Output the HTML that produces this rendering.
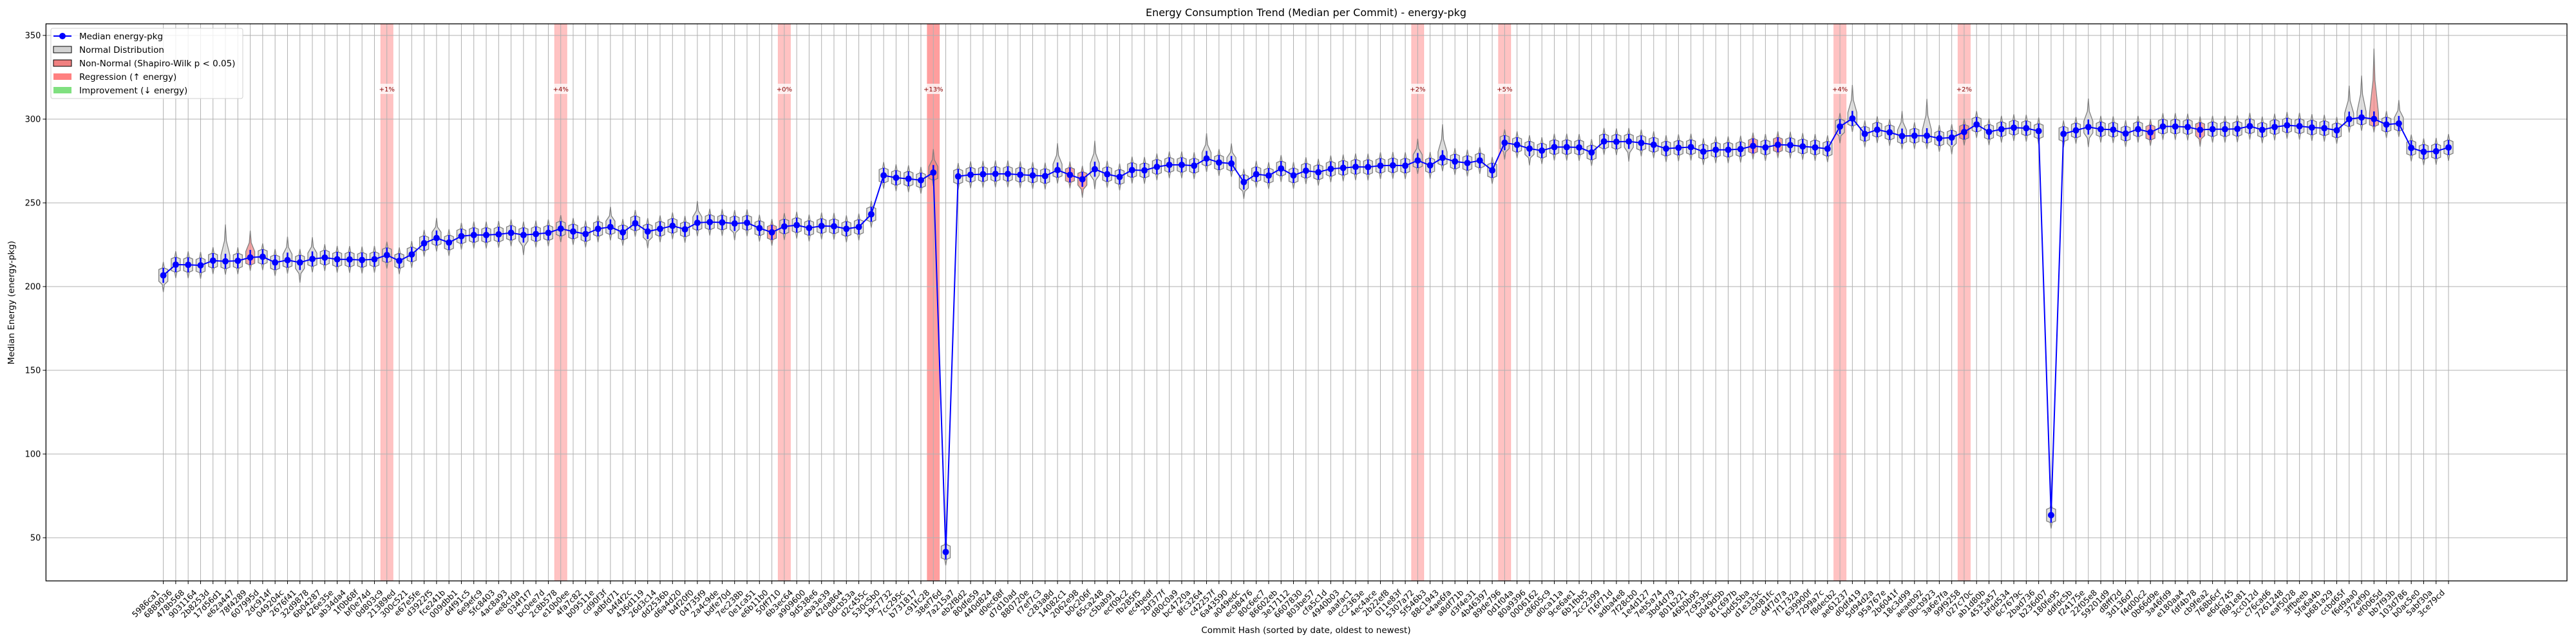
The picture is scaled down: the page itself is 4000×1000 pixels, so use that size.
<!DOCTYPE html>
<html><head><meta charset="utf-8">
<style>
html,body{margin:0;padding:0;background:#fff;}
svg{display:block;font-family:"DejaVu Sans","Liberation Sans",sans-serif;}
</style></head>
<body>
<svg id="chart" width="4000" height="1000" viewBox="0 0 4000 1000" xmlns="http://www.w3.org/2000/svg">
<rect x="0" y="0" width="4000" height="1000" fill="#fff"/>
<text x="2028" y="25" text-anchor="middle" font-size="16" fill="#000">Energy Consumption Trend (Median per Commit) - energy-pkg</text>
<text transform="translate(22,470) rotate(-90)" text-anchor="middle" font-size="13.5" fill="#000">Median Energy (energy-pkg)</text>
<text x="2028" y="983" text-anchor="middle" font-size="13.5" fill="#000">Commit Hash (sorted by date, oldest to newest)</text>
<g id="plot"></g>
</svg>
<script>
const commits = ["5986ca1","6889036","478b568","9031164","2b8253d","17d56d1","e62a447","78f4289","607995d","2dc914f","049204c","2676f41","32d9878","6b04287","426e35e","ab34da4","1f0b68f","bf0e74d","0d803c9","21389ed","300c521","e67e5fe","d3922f5","fce241b","009dbb1","d4f91c5","6e9efc9","5fc8403","4ac8a93","ee8cfda","034f1f7","bc0ee7d","2c8b578","e10b0ee","4fa7c82","b09511e","cd90f3f","adbfd71","b4f4f2c","436d119","26d3c14","dd2536b","d6a4d20","b4f20f0","04735f9","2a4c9de","bdfe70d","7ec238b","0e1ca51","e6b11b0","50ff710","6b3ec64","a909600","9d538e6","eba3e39","42da864","0dcb53a","d2c455c","530c5b0","19c7732","7cc295c","b731817","c91fc28","38ef76d","7a215a7","eb2f8d2","80dfe59","440d824","d0ec68f","d7d10ad","880720e","f7ef7c3","c283a8d","14082c1","2062e98","b0c206f","65ca248","c5bab91","ecf09c2","fb285f5","ec4bedf","2bf377f","d80c0a9","bc4720a","8fc3264","c42257f","6a43590","a049edc","ec98476","80c6ec7","86602eb","3e17112","6607830","803be57","cfa5c1d","4940b03","aaafac1","cc2363e","4ec4ace","2b22ef8","011e83f","5307a72","5f546b3","88c1943","e4ae6fa","a8df71b","d3f4e31","4b46397","89de796","0d1f04a","80a9396","0006162","c8605c9","d0ca11a","9ce6ae1","6b1fbb5","2cc2399","f16f71d","adba4e8","7f28cb0","1e4d127","7eb5a74","3bd4d79","801b221","46b0b95","7c9539c","b049d5b","81c697b","bdd55ba","d1e333c","c9081fc","d4f7d7a","7f1732a","639900f","7299a7c","f8decb2","ae61237","d0df419","5d94d2a","95a767e","2b6041f","18c3d99","aeaeb92","0bcb923","3a6e7fa","99f9258","027c70c","ab1d80b","4535a57","bfdd534","6c7679c","2bad736","b236d07","180fe95","ddfdc5b","f24175e","22f05e8","59201d9","d8fff2d","3d136d7","f4d00c2","0b66d9e","3a46fd9","e180aa4","fdf4b78","cb9fea2","768b6cf","e6dc745","f881e81","3cc012d","c76cad6","7261248","eaf5028","3ffbeeb","5fa6a4b","b681a29","ccbd65f","f6d9aa0","372ef90","ef0065d","bb7f93b","103d786","b0ac5e0","5abf30a","3ce79cd"];
const medians = [206.7,213.1,213.0,212.7,215.5,215.1,215.4,217.4,217.8,214.4,215.8,214.4,216.5,217.3,216.3,216.2,215.9,216.3,218.8,215.4,219.2,225.9,229.0,226.3,
230.1,230.8,230.8,231.2,232.1,230.8,231.4,232.1,234.6,232.9,231.4,234.5,235.6,232.4,237.8,232.9,234.5,236.3,234.2,238.1,238.5,238.3,237.7,238.1,234.9,232.4,235.9,236.7,235.0,236.2,236.0,234.5,235.6,243.2,
266.4,265.0,264.4,263.5,268.1,41.5,265.8,266.8,267.1,267.3,267.3,266.8,266.4,266.0,269.6,266.7,264.1,270.1,267.1,265.5,269.6,269.4,271.5,272.7,272.7,272.2,276.5,274.1,273.5,262.4,267.1,266.3,270.5,266.4,269.2,268.3,270.3,270.9,271.5,
271.4,272.2,272.4,272.2,275.3,272.4,276.9,274.7,273.8,275.3,269.4,285.9,284.7,282.4,281.2,283.3,283.3,283.1,280.1,286.7,286.5,286.7,285.8,284.7,282.4,282.9,283.3,280.6,281.7,281.7,282.1,284.0,283.1,284.7,284.5,283.7,283.1,282.3,295.6,300.4,
291.2,293.7,292.1,289.9,290.1,290.1,288.5,289.0,292.3,296.8,292.4,294.0,294.9,294.6,292.9,63.5,291.2,293.3,295.3,294.0,293.7,291.4,294.0,292.1,295.6,295.6,295.3,293.6,294.0,294.0,294.2,295.8,
293.6,295.3,296.3,295.8,295.0,294.6,293.3,300.0,301.0,300.1,296.8,297.4,282.8,280.5,280.8,283.1];
// violin tails (value units above/below median); default applies except listed
const defaultTailUp = 8;
const defaultTailDown = 8;
const tailUpIdx = [5,7,10,12,22,36,43,57,62,72,75,84,86,101,103,136,140,142,155,176,177,178,180];
const tailUpVal = [22,16,14,13,12,12,13,8,14,16,17,15,12,13,20,20,15,22,17,20,25,42,14];
const tailDownIdx = [0,11,29,39,46,58,74,75,87,108,110,118,135,136,144,155,164];
const tailDownVal = [10,12,12,10,10,8,11,12,10,10,10,12,10,8,10,12,10];
const nonNormal = [7,49,62,73,74,128,130,145,160,164,178];
const bandIdx = [18,32,50,62,101,108,135,145];
const bandLabels = ["+1%","+4%","+0%","+13%","+2%","+5%","+4%","+2%"];
const yTicks = [50,100,150,200,250,300,350];

const L=71.4, R=3986, T=37, B=902;
const X0=253.6, DX=19.285;
function xs(i){return X0+i*DX;}
function ys(v){return 835-(v-50)*2.6;}
const NS="http://www.w3.org/2000/svg";
const plot=document.getElementById('plot');
function el(tag,attrs,parent){const e=document.createElementNS(NS,tag);for(const k in attrs)e.setAttribute(k,attrs[k]);(parent||plot).appendChild(e);return e;}

// bands
const gB=el('g',{});


bandIdx.forEach((b,k)=>{
  const r=el('rect',{x:xs(b)-DX/2,y:T,width:DX,height:B-T,fill:'#ff0000','fill-opacity':b===62?0.38:0.24,stroke:'#ff0000','stroke-opacity':0.12},gB);
  
  
});
// grid
const gG=el('g',{stroke:'#b0b0b0','stroke-width':1});


yTicks.forEach(v=>{el('line',{x1:L,x2:R,y1:ys(v),y2:ys(v)},gG);});
commits.forEach((c,i)=>{el('line',{x1:xs(i),x2:xs(i),y1:T,y2:B},gG);});
// band labels
bandIdx.forEach((b,k)=>{
  const g=el('g',{});
  
  
  el('rect',{x:xs(b)-12,y:130,width:24,height:16,fill:'#fff','fill-opacity':0.75},g);
  const t=el('text',{x:xs(b),y:142,'text-anchor':'middle','font-size':10,fill:'#8b0000'},g);
  t.textContent=bandLabels[k];
});
// violins
const gV=el('g',{});


medians.forEach((m,i)=>{
  let up=defaultTailUp, dn=defaultTailDown;
  const a=tailUpIdx.indexOf(i); if(a>=0) up=tailUpVal[a];
  const b=tailDownIdx.indexOf(i); if(b>=0) dn=tailDownVal[b];
  const x=xs(i), yt=ys(m+up), yb=ys(m-dn), ym=ys(m);
  const w=7;
  const d=`M${x},${yt} L${x+1.5},${ys(m+up*0.55)} L${x+w},${ys(m+3.5)} L${x+w},${ys(m-3.5)} L${x+1.5},${ys(m-dn*0.55)} L${x},${yb} L${x-1.5},${ys(m-dn*0.55)} L${x-w},${ys(m-3.5)} L${x-w},${ys(m+3.5)} L${x-1.5},${ys(m+up*0.55)} Z`;
  const p=el('path',{d:d,fill:nonNormal.includes(i)?'#f08080':'#d3d3d3','fill-opacity':0.7,stroke:'#808080','stroke-width':1.3},gV);
  
  
  const q=el('line',{x1:x,x2:x,y1:ys(m+4.5),y2:ys(m-4.5),stroke:'#0000ff','stroke-width':2.5},gV);
  
  
});
// median line
const pts=medians.map((m,i)=>xs(i).toFixed(1)+','+ys(m).toFixed(1)).join(' ');
const ln=el('polyline',{points:pts,fill:'none',stroke:'#0000ff','stroke-width':2});


medians.forEach((m,i)=>{
  const c=el('circle',{cx:xs(i),cy:ys(m),r:5,fill:'#0000ff'});
  
  
});
// axes frame
const fr=el('rect',{x:L,y:T,width:R-L,height:B-T,fill:'none',stroke:'#000','stroke-width':1.3});


// y ticks
const gY=el('g',{});


yTicks.forEach(v=>{
  el('line',{x1:L-5,x2:L,y1:ys(v),y2:ys(v),stroke:'#000','stroke-width':1},gY);
  const t=el('text',{x:L-8,y:ys(v)+4.5,'text-anchor':'end','font-size':13,fill:'#000'},gY);
  
  
  t.textContent=v;
});
// x ticks
const gX=el('g',{});


commits.forEach((c,i)=>{
  const x=xs(i);
  el('line',{x1:x,x2:x,y1:B,y2:B+5,stroke:'#000','stroke-width':1},gX);
  const ax=x-5, ay=921;
  const t=el('text',{x:ax,y:ay,'text-anchor':'end','font-size':12.5,fill:'#000',transform:`rotate(-45 ${ax} ${ay})`},gX);
  
  
  t.textContent=c;
});
// legend
const gL=el('g',{});


el('rect',{x:79,y:44,width:298,height:109,rx:3,fill:'#fff','fill-opacity':0.8,stroke:'#d0d0d0'},gL);
const legTexts=["Median energy-pkg","Normal Distribution","Non-Normal (Shapiro-Wilk p < 0.05)","Regression (\u2191 energy)","Improvement (\u2193 energy)"];
const legY=[56,77,98,119,140];
legTexts.forEach((s,k)=>{
  const y=legY[k];
  if(k===0){el('line',{x1:83,x2:111,y1:y,y2:y,stroke:'#0000ff','stroke-width':2},gL);el('circle',{cx:97,cy:y,r:5,fill:'#0000ff'},gL);}
  else if(k===1){el('rect',{x:83,y:y-5,width:28,height:10,fill:'#d3d3d3',stroke:'#000','stroke-width':1},gL);}
  else if(k===2){el('rect',{x:83,y:y-5,width:28,height:10,fill:'#f08080',stroke:'#000','stroke-width':1},gL);}
  else if(k===3){el('rect',{x:83,y:y-5,width:28,height:10,fill:'#ff8080'},gL);}
  else {el('rect',{x:83,y:y-5,width:28,height:10,fill:'#80e080'},gL);}
  const t=el('text',{x:123,y:y+5,'font-size':13.5,fill:'#000'},gL);
  
  
  t.textContent=s;
});
</script>
</body></html>
